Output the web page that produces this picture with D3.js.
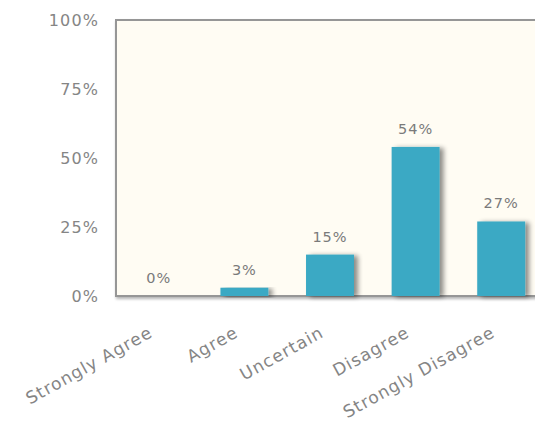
<!DOCTYPE html>
<html><head><meta charset="utf-8">
<script src="https://cdn.jsdelivr.net/npm/d3@7"></script>
<style>body{margin:0;background:#fff;overflow:hidden}svg{display:block}</style>
</head><body>
<svg id="chart" width="535" height="424"></svg>
<script>
const categories = ["Strongly Agree", "Agree", "Uncertain", "Disagree", "Strongly Disagree"];
const values = [0, 3, 15, 54, 27];
const yTicks = [0, 25, 50, 75, 100];

const svg = d3.select("#chart");
const plotLeft = 116, plotTop = 20, plotBottom = 296, plotRight = 544;
const FONT = "DejaVu Sans, Verdana, sans-serif";

const x = d3.scaleBand().domain(categories).range([plotLeft, plotRight]).paddingInner(0.44).paddingOuter(0.22);
const y = d3.scaleLinear().domain([0, 100]).range([plotBottom, plotTop]);

const defs = svg.append("defs");
const f = defs.append("filter").attr("id","sh").attr("x","-20%").attr("y","-20%").attr("width","160%").attr("height","140%");
f.append("feGaussianBlur").attr("in","SourceAlpha").attr("stdDeviation",2.5).attr("result","b");
f.append("feOffset").attr("in","b").attr("dx",4).attr("dy",1).attr("result","o");
f.append("feComponentTransfer").attr("in","o").attr("result","o2").append("feFuncA").attr("type","linear").attr("slope",0.45);
const m = f.append("feMerge"); m.append("feMergeNode").attr("in","o2"); m.append("feMergeNode").attr("in","SourceGraphic");

const fb = defs.append("filter").attr("id","bsh").attr("x","-5%").attr("y","-5%").attr("width","110%").attr("height","115%");
fb.append("feGaussianBlur").attr("in","SourceAlpha").attr("stdDeviation",1.5).attr("result","b");
fb.append("feOffset").attr("in","b").attr("dx",1).attr("dy",2).attr("result","o");
fb.append("feComponentTransfer").attr("in","o").attr("result","o2").append("feFuncA").attr("type","linear").attr("slope",0.3);
const m2 = fb.append("feMerge"); m2.append("feMergeNode").attr("in","o2"); m2.append("feMergeNode").attr("in","SourceGraphic");

// plot background & border
svg.append("rect").attr("x", plotLeft).attr("y", plotTop).attr("width", plotRight - plotLeft).attr("height", plotBottom - plotTop)
  .attr("fill", "#fffcf3").attr("stroke", "#969696").attr("stroke-width", 2).attr("filter","url(#bsh)");

// y axis labels
const yAxis = d3.axisLeft(y).tickValues(yTicks).tickFormat(d => d + "%").tickSize(0).tickPadding(0);
const ya = svg.append("g").attr("transform", "translate(99,0)").call(yAxis);
ya.select(".domain").remove();
ya.selectAll("text").attr("fill", "#858585").attr("font-family", FONT).attr("font-size", 16)
  .attr("letter-spacing", 1.1).attr("text-anchor","end");

// bars
svg.append("g").selectAll("rect").data(values).join("rect")
  .attr("x", (d, i) => x(categories[i]))
  .attr("y", d => y(d))
  .attr("width", x.bandwidth())
  .attr("height", d => y(0) - y(d))
  .attr("fill", "#3aa9c4")
  .attr("filter","url(#sh)");

// value labels
svg.append("g").selectAll("text").data(values).join("text")
  .attr("x", (d, i) => x(categories[i]) + x.bandwidth() / 2)
  .attr("y", d => y(d) - 13)
  .attr("text-anchor", "middle")
  .attr("fill", "#7a7a7a")
  .attr("font-family", FONT)
  .attr("font-size", 14.5)
  .attr("letter-spacing", 1)
  .text(d => d + "%");

// x axis labels
const xAxis = d3.axisBottom(x).tickSize(0).tickPadding(0);
const xa = svg.append("g").attr("transform", `translate(0,${plotBottom})`).call(xAxis);
xa.select(".domain").remove();
xa.selectAll("text")
  .attr("fill", "#858585")
  .attr("font-family", FONT)
  .attr("font-size", 17)
  .attr("letter-spacing", 1.1)
  .attr("text-anchor", "end")
  .attr("dy", 0)
  .attr("y", 0)
  .attr("transform", "translate(-5,40) rotate(-29)");
</script>
</body></html>
